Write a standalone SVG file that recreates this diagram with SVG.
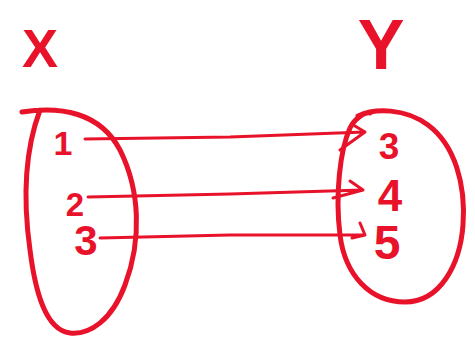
<svg xmlns="http://www.w3.org/2000/svg" width="475" height="350" viewBox="0 0 475 350">
<style>
.ink{fill:none;stroke:#E8132A;stroke-width:5;stroke-linecap:round;stroke-linejoin:round}
.arr{fill:none;stroke:#E8132A;stroke-width:3;stroke-linecap:round;stroke-linejoin:round}
text{fill:#E8132A;font-family:"Liberation Sans",Arial,sans-serif;font-weight:bold;text-anchor:middle}
</style>
<rect width="475" height="350" fill="#fff"/>
<g id="setX">
<text x="40" y="67" font-size="54">X</text>
<path class="ink" d="M22 112 C60 106,100 112,120 150 C140 190,142 240,125 285 C112 320,90 335,70 333 C45 330,35 290,30 250 C23 200,25 150,40 110"/>
</g>
<g id="x1"><text x="63" y="155" font-size="34">1</text></g>
<g id="x2"><text x="75" y="216" font-size="33">2</text></g>
<g id="x3"><text x="86" y="255" font-size="42">3</text></g>
<g id="setY">
<text x="381" y="69" font-size="70">Y</text>
<path class="ink" d="M358 116 C375 108,405 108,428 125 C455 145,466 185,463 225 C460 265,440 302,405 302 C370 302,345 275,340 235 C335 195,340 150,350 128 C355 118,365 112,370 113"/>
</g>
<g id="y3"><text x="389" y="159" font-size="37">3</text></g>
<g id="y4"><text x="390" y="211" font-size="44">4</text></g>
<g id="y5"><text x="387" y="259" font-size="48">5</text></g>
<g id="connectors">
<path class="arr" d="M85 139 L230 137 L365 132 M340 150 L365 132 L355 126"/>
<path class="arr" d="M88 197 L230 194 L363 190 M350 181 L363 190 L333 198"/>
<path class="arr" d="M100 238 L230 235 L365 235 M360 223 L365 235 L352 238"/>
</g>
</svg>
